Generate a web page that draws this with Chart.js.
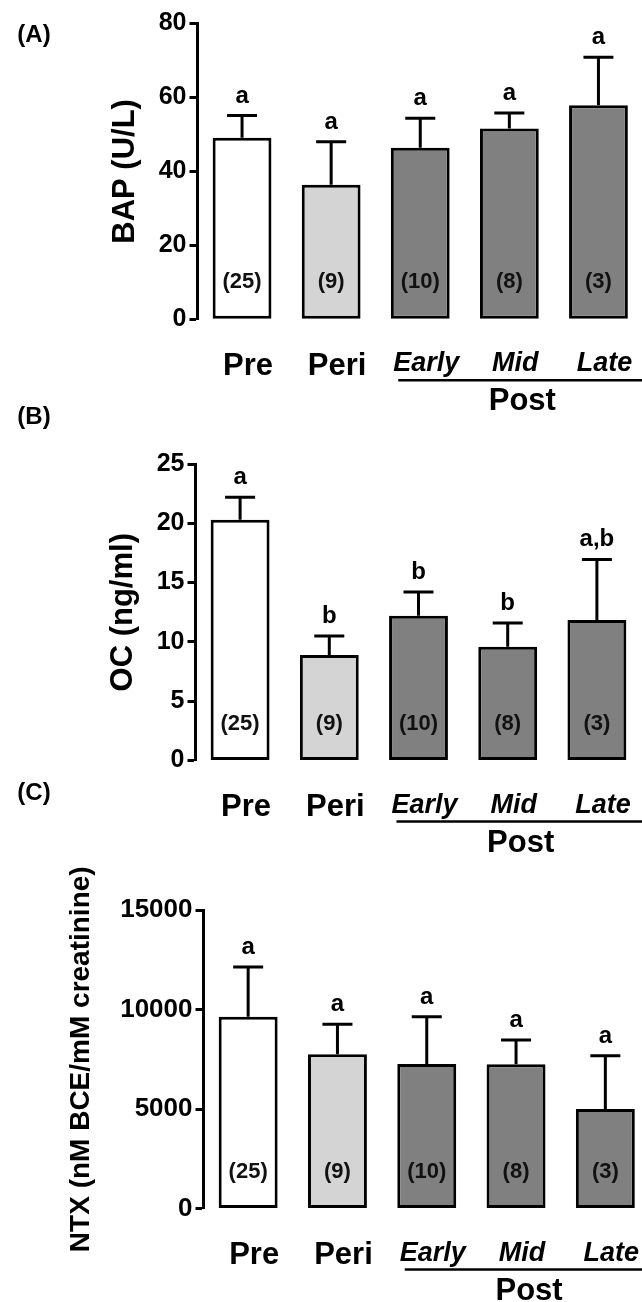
<!DOCTYPE html>
<html>
<head>
<meta charset="utf-8">
<script src="https://cdn.jsdelivr.net/npm/chart.js@4.4.1/dist/chart.umd.min.js"></script>
<style>
  html, body { margin: 0; padding: 0; background: #fff; overflow: hidden; width: 642px; height: 1302px; }
  canvas { position: absolute; left: 0; }
</style>
</head>
<body>
<canvas id="panelA" width="660" height="440" style="top:0px"></canvas>
<canvas id="panelB" width="660" height="470" style="top:400px"></canvas>
<canvas id="panelC" width="660" height="532" style="top:770px"></canvas>
<script>
// Menopausal stage groups and group sizes
const categories = ['Pre', 'Peri', 'Early', 'Mid', 'Late'];
const sampleSizes = ['(25)', '(9)', '(10)', '(8)', '(3)'];
const barColors = ['#ffffff', '#d4d4d4', '#808080', '#808080', '#808080'];

// (A) bone alkaline phosphatase, U/L (mean, SEM)
const bapMean = [49.1, 36.4, 46.4, 51.6, 57.9];
const bapSem = [6.0, 11.6, 8.0, 4.2, 13.0];
const bapLetters = ['a', 'a', 'a', 'a', 'a'];
const bapTicks = [0, 20, 40, 60, 80];

// (B) osteocalcin, ng/ml (mean, SEM)
const ocMean = [20.3, 8.9, 12.2, 9.6, 11.85];
const ocSem = [1.9, 1.6, 2.0, 2.0, 5.1];
const ocLetters = ['a', 'b', 'b', 'b', 'a,b'];
const ocTicks = [0, 5, 10, 15, 20, 25];

// (C) urinary NTX, nM BCE/mM creatinine (mean, SEM)
const ntxMean = [9640, 7750, 7260, 7250, 5000];
const ntxSem = [2500, 1510, 2380, 1220, 2680];
const ntxLetters = ['a', 'a', 'a', 'a', 'a'];
const ntxTicks = [0, 5000, 10000, 15000];

const FONT = '"Liberation Sans", Arial, Helvetica, sans-serif';
Chart.defaults.font.family = FONT;
Chart.defaults.color = '#000';

// Error bars, significance letters, group sizes, the "Post" bracket and the panel letter
function annotationPlugin(o) {
  return {
    id: 'annotations' + o.panel.replace(/\W/g, ''),
    afterDatasetsDraw(chart) {
      const ctx = chart.ctx;
      const xs = chart.scales.x, ys = chart.scales.y;
      const meta = chart.getDatasetMeta(0);
      const zero = ys.getPixelForValue(0);
      ctx.save();
      meta.data.forEach((bar, i) => {
        const top = ys.getPixelForValue(o.mean[i]);
        const cap = ys.getPixelForValue(o.mean[i] + o.sem[i]);
        ctx.strokeStyle = '#000';
        ctx.lineWidth = 3;
        ctx.lineCap = 'butt';
        ctx.beginPath();
        ctx.moveTo(bar.x, top);
        ctx.lineTo(bar.x, cap);
        ctx.moveTo(bar.x - 15, cap);
        ctx.lineTo(bar.x + 15, cap);
        ctx.stroke();

        ctx.fillStyle = '#000';
        ctx.textAlign = 'center';
        ctx.font = 'bold 24px ' + FONT;
        ctx.textBaseline = 'alphabetic';
        ctx.fillText(o.letters[i], bar.x, cap - 13);

        ctx.font = 'bold 22px ' + FONT;
        ctx.textBaseline = 'middle';
        ctx.fillStyle = '#111';
        ctx.fillText(sampleSizes[i], bar.x, zero - 37);
      });

      const early = xs.getPixelForValue(2);
      const mid = xs.getPixelForValue(3);
      const lineY = zero + 61;
      ctx.strokeStyle = '#000';
      ctx.lineWidth = 2.5;
      ctx.beginPath();
      ctx.moveTo(early - 22, lineY);
      ctx.lineTo(chart.width, lineY);
      ctx.stroke();

      ctx.fillStyle = '#000';
      ctx.textAlign = 'center';
      ctx.textBaseline = 'alphabetic';
      ctx.font = 'bold 31px ' + FONT;
      ctx.fillText('Post', mid + 13, zero + 91);

      ctx.font = 'bold 24px ' + FONT;
      ctx.textBaseline = 'middle';
      ctx.fillText(o.panel, 34, o.panelY);
      ctx.restore();
    }
  };
}

function makePanel(id, o) {
  const canvas = document.getElementById(id);
  return new Chart(canvas, {
    type: 'bar',
    data: {
      labels: categories,
      datasets: [{
        data: o.mean,
        backgroundColor: barColors,
        borderColor: '#000',
        borderWidth: 3,
        borderSkipped: false,
        barPercentage: 0.66,
        categoryPercentage: 1
      }]
    },
    options: {
      responsive: false,
      animation: false,
      devicePixelRatio: 1,
      layout: { padding: { top: o.top, left: 0, right: canvas.width - o.right, bottom: 0 } },
      plugins: { legend: { display: false }, tooltip: { enabled: false } },
      scales: {
        x: {
          grid: { display: false },
          border: { display: false },
          ticks: {
            color: '#000',
            padding: 20.4,
            labelOffset: 6,
            maxRotation: 0,
            autoSkip: false,
            font: (c) => c.index < 2
              ? { family: FONT, size: 31, weight: 'bold' }
              : { family: FONT, size: 27, weight: 'bold', style: 'italic' }
          },
          afterFit: (s) => { s.height = o.xHeight; }
        },
        y: {
          min: o.ticks[0],
          max: o.ticks[o.ticks.length - 1],
          afterBuildTicks: (s) => { s.ticks = o.ticks.map(v => ({ value: v })); },
          border: { display: true, color: '#000', width: 3 },
          grid: { drawOnChartArea: false, drawTicks: true, tickLength: 8, tickWidth: 3, tickColor: '#000' },
          ticks: {
            color: '#000',
            padding: 3,
            font: { size: o.tickSize, weight: 'bold' },
            callback: (v) => String(v)
          },
          title: {
            display: true,
            text: o.title,
            color: '#000',
            font: { size: o.titleSize, weight: 'bold' },
            padding: { top: o.titlePad, bottom: 0 }
          },
          afterFit: (s) => { s.width = o.left; }
        }
      }
    },
    plugins: [annotationPlugin(o)]
  });
}

makePanel('panelA', {
  mean: bapMean, sem: bapSem, letters: bapLetters, ticks: bapTicks,
  title: 'BAP (U/L)', titleSize: 31, titlePad: 106.4, tickSize: 25,
  panel: '(A)', panelY: 35,
  top: 23.5, xHeight: 120.7, left: 197.5, right: 643
});

makePanel('panelB', {
  mean: ocMean, sem: ocSem, letters: ocLetters, ticks: ocTicks,
  title: 'OC (ng/ml)', titleSize: 31, titlePad: 104.4, tickSize: 25,
  panel: '(B)', panelY: 17,
  top: 64, xHeight: 109.5, left: 195.5, right: 641.5
});

makePanel('panelC', {
  mean: ntxMean, sem: ntxSem, letters: ntxLetters, ticks: ntxTicks,
  title: 'NTX (nM BCE/mM creatinine)', titleSize: 28, titlePad: 64.2, tickSize: 26,
  panel: '(C)', panelY: 23,
  top: 140, xHeight: 93.5, left: 203.5, right: 650
});
</script>
</body>
</html>
